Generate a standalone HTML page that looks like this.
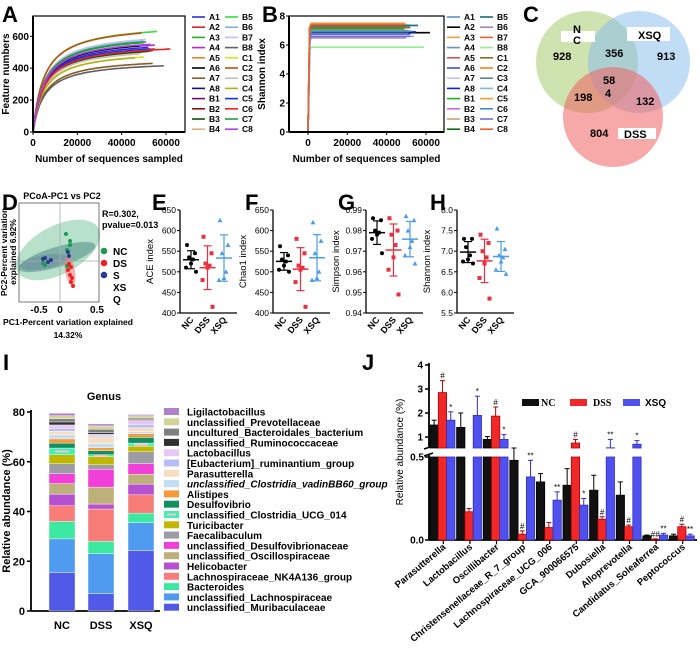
<!DOCTYPE html>
<html><head><meta charset="utf-8">
<style>
html,body{margin:0;padding:0;background:#fff;}
svg{display:block;font-family:"Liberation Sans",Arial,sans-serif;font-weight:bold;}
</style></head>
<body>
<svg id="fig" width="700" height="655" viewBox="0 0 700 655" xmlns="http://www.w3.org/2000/svg">
<g font-size="22" fill="#000">
<text x="2" y="22">A</text>
<text x="262" y="22">B</text>
<text x="523" y="22">C</text>
<text x="2" y="210">D</text>
<text x="152" y="210">E</text>
<text x="245" y="210">F</text>
<text x="338" y="210">G</text>
<text x="430" y="210">H</text>
<text x="3" y="370">I</text>
<text x="362" y="370">J</text>
</g>
<!-- Venn C -->
<g font-size="11">
<circle cx="587" cy="62" r="51" fill="#a8cc70" opacity="0.55"/>
<circle cx="639" cy="62" r="51" fill="#8ec0ec" opacity="0.55"/>
<circle cx="613" cy="117" r="50" fill="#f06060" opacity="0.55"/>
<rect x="561" y="31" width="34" height="11" fill="#fff"/>
<text x="573" y="33">N</text>
<text x="573" y="44">C</text>
<rect x="627" y="27" width="43" height="14" fill="#fff"/>
<text x="638" y="39">XSQ</text>
<rect x="618" y="128" width="38" height="11" fill="#fff"/>
<text x="624" y="138">DSS</text>
<text x="553" y="60">928</text>
<text x="605" y="57">356</text>
<text x="657" y="60">913</text>
<text x="603" y="84">58</text>
<text x="605" y="97">4</text>
<text x="574" y="101">198</text>
<text x="636" y="105">132</text>
<text x="590" y="137">804</text>
</g>
<g id="root"></g>
</svg>
<script>
const NS='http://www.w3.org/2000/svg';
const root=document.getElementById('root');
function mk(tag,a,p){const e=document.createElementNS(NS,tag);for(const k in a)e.setAttribute(k,a[k]);(p||root).appendChild(e);return e;}
function tx(s,a,p){const e=mk('text',a,p);e.textContent=s;return e;}

/* ---------- Panel A data ---------- */
const rareNames=['A1','A2','A3','A4','A5','A6','A7','A8','B1','B2','B3','B4','B5','B6','B7','B8','C1','C2','C3','C4','C5','C6','C7','C8'];
const featFinal=[530,520,560,545,500,540,430,510,505,510,505,490,630,570,580,415,470,620,490,465,520,520,565,550];
const featDepth=[52000,55000,50000,55000,49000,48000,54000,54000,50000,52000,52000,48000,56000,50000,51000,59000,50000,49000,47000,46000,53000,62000,51000,53000];
const colA=['#2030e0','#e02020','#20b020','#c020d0','#f08020','#000','#8a5a20','#101080','#701060','#901010','#105010','#e0b080','#30e030','#80b0e8','#c0c0f0','#606060','#e0e020','#c05010','#c0c0c0','#b0b020','#1030f0','#f02020','#20a040','#b040e0'];
/* ---------- Panel B data ---------- */
const shanFinal=[7.0,6.85,7.45,6.9,7.2,6.75,6.6,6.9,7.1,7.3,7.0,7.35,7.35,6.5,7.5,5.85,7.2,7.5,6.8,6.6,7.45,6.95,6.6,7.4];
const shanDepth=[50000,62000,50000,48000,52000,52000,53000,55000,49000,50000,51000,52000,56000,50000,49000,59000,52000,49000,51000,54000,50000,53000,52000,49000];
const colB=['#6090d0','#000','#f0a040','#7090c0','#e05050','#4050e0','#c0c0f0','#1020e0','#20b020','#c070e0','#d0a070','#107010','#107080','#b080b0','#f06020','#90f090','#807020','#f08020','#6080a0','#80b8e8','#f0a030','#4090d0','#7070e0','#f06030'];

function rarePanel(L,xmin,axX0,x60,yTop,yBot,ymax,yticks,fin,dep,cols,shape,ylab,legX){
  const xs=v=>axX0+v*(x60-axX0)/60000, ys=v=>yBot-v*(yBot-yTop)/ymax;
  const g=mk('g',{});
  
  
  for(let i=0;i<fin.length;i++){
    let d='';
    for(let k=0;k<=60;k++){const x=dep[i]*k/60;const y=shape(x,fin[i],dep[i]);d+=(k?'L':'M')+xs(x).toFixed(1)+' '+ys(y).toFixed(1);}
    const p=mk('path',{d:d,fill:'none',stroke:cols[i],'stroke-width':1.6},g);
    
    
  }
  mk('rect',{x:xmin,y:yTop,width:(L=='a'?185:444)-xmin,height:yBot-yTop,fill:'none',stroke:'#000','stroke-width':1.2},g);
  mk('line',{x1:xmin,y1:yTop,x2:xmin,y2:yBot,stroke:'#000','stroke-width':2},g);
  mk('line',{x1:xmin,y1:yBot,x2:(L=='a'?185:444),y2:yBot,stroke:'#000','stroke-width':2},g);
  yticks.forEach(t=>{mk('line',{x1:xmin-3,y1:ys(t),x2:xmin,y2:ys(t),stroke:'#000'},g);tx(String(t),{x:xmin-4,y:ys(t)+3.5,'font-size':10,'text-anchor':'end'},g);});
  [0,20000,40000,60000].forEach(t=>{mk('line',{x1:xs(t),y1:yBot,x2:xs(t),y2:yBot+3,stroke:'#000'},g);tx(String(t),{x:xs(t),y:yBot+14,'font-size':10,'text-anchor':'middle'},g);});
  tx('Number of sequences sampled',{x:(xmin+(L=='a'?185:444))/2,y:yBot+30,'font-size':10,'text-anchor':'middle'},g);
  tx(ylab,{transform:`translate(${xmin-24},${(yTop+yBot)/2}) rotate(-90)`,'font-size':10,'text-anchor':'middle'},g);
  for(let i=0;i<24;i++){
    const c=Math.floor(i/12),r=i%12,y=17+r*10.2,x=legX+c*33;
    const ln=mk('line',{x1:x,y1:y,x2:x+13,y2:y,stroke:cols[i],'stroke-width':1.6},g);
    
    
    const t=tx(rareNames[i],{x:x+17,y:y+3,'font-size':8.5},g);
    
    
  }
}
rarePanel('a',33,33,166,16,132,727,[0,200,400,600],featFinal,featDepth,colA,(x,F,D)=>F*(x/(x+5000))*(D+5000)/D,'Feature numbers',192);
rarePanel('b',289,308,426,16,132,8,[0,2,4,6,8],shanFinal,shanDepth,colB,(x,S,D)=>S*(1-Math.exp(-x/250)),'Shannon index',447);

/* ---------- Panel D PCoA ---------- */
const pcNCx=[0.1,0.167,0.167,0.117,-0.283,-0.25,0.117], pcNCy=[0.27,0.2,0.16,0.11,-0.02,-0.04,-0.05];
const pcDSx=[0.15,0.183,0.133,0.167,0.2,0.183,0.217], pcDSy=[-0.03,-0.06,-0.09,-0.14,-0.17,-0.21,-0.25];
const pcXSx=[0.133,0.15,-0.283,-0.2,-0.15,-0.25], pcXSy=[0.09,0.05,0.02,-0.01,0.01,0.03];
(function(){
  const xD=v=>60+v*60, yD=v=>261-v*100;
  const g=mk('g',{});
  
  
  tx('PCoA-PC1 vs PC2',{x:62,y:199,'font-size':9,'text-anchor':'middle'},g);
  const e1=mk('ellipse',{cx:58,cy:250,rx:46,ry:24,transform:'rotate(-28 58 250)',fill:'#7cc8a0',opacity:0.55},g);
  
  const e3=mk('ellipse',{cx:44,cy:262,rx:24,ry:7,transform:'rotate(-10 44 262)',fill:'#8a8ac0',opacity:0.45},g);
  
  const e2=mk('ellipse',{cx:57,cy:257,rx:40,ry:10,transform:'rotate(-17 57 257)',fill:'#3a7a78',opacity:0.45},g);
  
  const e4=mk('ellipse',{cx:70,cy:271,rx:5,ry:15,transform:'rotate(-10 70 271)',fill:'#f08080',opacity:0.6},g);
  
  mk('line',{x1:60,y1:203,x2:60,y2:302,stroke:'#aaa','stroke-width':0.8},g);
  mk('line',{x1:19,y1:261,x2:99,y2:261,stroke:'#aaa','stroke-width':0.8},g);
  mk('rect',{x:19,y:203,width:80,height:99,fill:'none',stroke:'#555','stroke-width':0.8},g);
  const sets=[[pcNCx,pcNCy,'#1a9a50','nc'],[pcDSx,pcDSy,'#f02020','dss'],[pcXSx,pcXSy,'#2a3a90','xsq']];
  sets.forEach(s=>s[0].forEach((v,i)=>{const c=mk('circle',{cx:xD(v),cy:yD(s[1][i]),r:2,fill:s[2]},g);}));
  [['-0.5',39],['0',60],['0.5',97]].forEach(t=>tx(t[0],{x:t[1],y:313,'font-size':10,'text-anchor':'middle'},g));
  tx('PC1-Percent variation explained',{x:68,y:325,'font-size':8.5,'text-anchor':'middle'},g);
  tx('14.32%',{x:68,y:338,'font-size':8.5,'text-anchor':'middle'},g);
  tx('PC2-Percent variation',{transform:'translate(7,252) rotate(-90)','font-size':8.5,'text-anchor':'middle'},g);
  tx('explained 6.92%',{transform:'translate(16,252) rotate(-90)','font-size':8.5,'text-anchor':'middle'},g);
  tx('R=0.302,',{x:102,y:217,'font-size':9},g);
  tx('pvalue=0.013',{x:102,y:228,'font-size':9},g);
  [['#1a9a50','NC',251],['#f02020','DS',263],['#2a3a90','S',275]].forEach(l=>{const c=mk('circle',{cx:104,cy:l[2],r:3.3,fill:l[0]},g);});
  [['NC',251],['DS',263],['S',275],['XS',287],['Q',299]].forEach(l=>{const t=tx(l[0],{x:113,y:l[1]+4,'font-size':10},g);});
})();

/* ---------- Panels E-H alpha diversity ---------- */
const aceNC=[565,545,535,530,520,510,500], aceDSS=[585,545,520,515,510,480,415], aceXSQ=[625,565,545,500,485,480];
const chaoNC=[562,540,530,525,515,505,500], chaoDSS=[580,545,515,510,505,475,415], chaoXSQ=[620,575,545,500,485,480];
const simpNC=[0.986,0.985,0.980,0.979,0.978,0.976,0.969], simpDSS=[0.986,0.980,0.978,0.973,0.967,0.961,0.949], simpXSQ=[0.987,0.985,0.980,0.975,0.972,0.968,0.964];
const shanNC=[7.3,7.3,7.1,6.9,6.8,6.75,6.7], shanDSS=[7.4,7.2,7.0,6.85,6.7,6.35,5.85], shanXSQ=[7.55,7.05,6.9,6.85,6.75,6.55,6.45];
const aceTicks=['400','450','500','550','600','650'], simpTicks=['0.94','0.95','0.96','0.97','0.98','0.99'], shanTicks=['5.5','6.0','6.5','7.0','7.5','8.0'];
const groups=['NC','DSS','XSQ'];
function alphaPanel(name,ax,ticks,data,ylab){
  const mn=+ticks[0],mx=+ticks[ticks.length-1],yT=210,yB=313;
  const ys=v=>yB-(v-mn)/(mx-mn)*(yB-yT);
  const g=mk('g',{});
  
  
  mk('line',{x1:ax,y1:yT,x2:ax,y2:yB,stroke:'#000','stroke-width':1.3},g);
  mk('line',{x1:ax,y1:yB,x2:ax+57,y2:yB,stroke:'#000','stroke-width':1.3},g);
  ticks.forEach(t=>{mk('line',{x1:ax-3,y1:ys(+t),x2:ax,y2:ys(+t),stroke:'#000'},g);tx(t,{x:ax-4,y:ys(+t)+3,'font-size':8.5,'text-anchor':'end','font-weight':'normal'},g);});
  tx(ylab,{transform:`translate(${ax-27},${(yT+yB)/2}) rotate(-90)`,'font-size':9.5,'text-anchor':'middle','font-weight':'normal'},g);
  const cols=['#000','#e83040','#4a9be8'], jit=[-4,4,-2,2,0,-5,5];
  data.forEach((arr,gi)=>{
    const cx=ax+11+gi*16.5;
    const m=arr.reduce((a,b)=>a+b,0)/arr.length;
    const sd=Math.sqrt(arr.reduce((a,b)=>a+(b-m)*(b-m),0)/(arr.length-1));
    arr.forEach((v,i)=>{
      const x=cx+jit[i],y=ys(v);let p;
      if(gi==0)p=mk('circle',{cx:x,cy:y,r:2,fill:cols[0]},g);
      else if(gi==1)p=mk('rect',{x:x-2,y:y-2,width:4,height:4,fill:cols[1]},g);
      else p=mk('path',{d:`M${x} ${y-2.5}L${x+2.4} ${y+2}L${x-2.4} ${y+2}Z`,fill:cols[2]},g);
      
      
    });
    const ml=mk('line',{x1:cx-8,y1:ys(m),x2:cx+8,y2:ys(m),stroke:cols[gi],'stroke-width':1.5},g);
    
    
    mk('line',{x1:cx,y1:ys(m-sd),x2:cx,y2:ys(m+sd),stroke:cols[gi],'stroke-width':1.2},g);
    mk('line',{x1:cx-4,y1:ys(m-sd),x2:cx+4,y2:ys(m-sd),stroke:cols[gi],'stroke-width':1.2},g);
    mk('line',{x1:cx-4,y1:ys(m+sd),x2:cx+4,y2:ys(m+sd),stroke:cols[gi],'stroke-width':1.2},g);
    tx(groups[gi],{transform:`translate(${cx+3},${yB+7}) rotate(-50)`,'font-size':9,'text-anchor':'end'},g);
  });
}
alphaPanel('ace',180,aceTicks,[aceNC,aceDSS,aceXSQ],'ACE index');
alphaPanel('chao1',273,aceTicks,[chaoNC,chaoDSS,chaoXSQ],'Chao1 index');
alphaPanel('simpson',366,simpTicks,[simpNC,simpDSS,simpXSQ],'Simpson index');
alphaPanel('shannon',457,shanTicks,[shanNC,shanDSS,shanXSQ],'Shannon index');

/* ---------- Panel I genus stacked bars ---------- */
const genera=['unclassified_Muribaculaceae','unclassified_Lachnospiraceae','Bacteroides','Lachnospiraceae_NK4A136_group','Helicobacter','unclassified_Oscillospiraceae','unclassified_Desulfovibrionaceae','Faecalibaculum','Turicibacter','unclassified_Clostridia_UCG_014','Desulfovibrio','Alistipes','unclassified_Clostridia_vadinBB60_group','Parasutterella','[Eubacterium]_ruminantium_group','Lactobacillus','unclassified_Ruminococcaceae','uncultured_Bacteroidales_bacterium','unclassified_Prevotellaceae','Ligilactobacillus'];
const genusNC=[15.5,13.5,7,6.3,4.7,4.2,4,4,3.6,2.7,2,1.7,1.6,1.5,1.2,1.3,1.2,1.3,1.2,1];
const genusDSS=[7,16,5,13,2,6.8,7.2,1.8,3.2,0.8,1.6,1.3,1.6,2.7,0.6,0.4,0.7,1.4,1.3,0.8];
const genusXSQ=[24.3,11.2,3.8,7.4,4.3,4,4.2,4.8,2.3,1.2,2.3,1.5,0.8,1.6,1.2,1.7,0.4,0.6,0.9,0.5];
const genusTicks=[0,20,40,60,80];
const genusCols=['#5159e8','#4f9bf0','#3de8a0','#f87c78','#b550d0','#bdb07a','#f040d8','#9c9ca4','#c0b800','#40f0b0','#109060','#f89a38','#c0ddf5','#f5dfc0','#b8bcf8','#e8c8f5','#303030','#808080','#d4d498','#b080c8'];
(function(){
  const ys=v=>611-v*(611-412)/80;
  const g=mk('g',{});
  
  
  tx('Genus',{x:104,y:400,'font-size':11,'text-anchor':'middle'},g);
  mk('line',{x1:31,y1:410,x2:31,y2:611,stroke:'#000','stroke-width':1.8},g);
  mk('line',{x1:31,y1:611,x2:160,y2:611,stroke:'#000','stroke-width':1.8},g);
  genusTicks.forEach(t=>{mk('line',{x1:27,y1:ys(t),x2:31,y2:ys(t),stroke:'#000','stroke-width':1.5},g);tx(String(t),{x:25,y:ys(t)+4,'font-size':11,'text-anchor':'end'},g);});
  tx('Relative abundance (%)',{transform:'translate(10,511) rotate(-90)','font-size':11,'text-anchor':'middle'},g);
  const bx=[49,88,128];
  [genusNC,genusDSS,genusXSQ].forEach((arr,gi)=>{
    let acc=0;
    arr.forEach((v,i)=>{
      const r=mk('rect',{x:bx[gi],y:ys(acc+v),width:26,height:ys(acc)-ys(acc+v),fill:genusCols[i],stroke:'#fff','stroke-width':0.4},g);
      
      
      if(i==9){mk('rect',{x:bx[gi]+6,y:ys(acc+v/2)-1,width:14,height:2,fill:'#f8c0e0'},g);}
      acc+=v;
    });
    tx(groups[gi],{x:bx[gi]+13,y:629,'font-size':11,'text-anchor':'middle'},g);
  });
  for(let k=0;k<20;k++){
    const i=19-k,y=412+k*10.3;
    const s=mk('rect',{x:164,y:y-4,width:15,height:7,fill:genusCols[i]},g);
    
    
    if(i==9)mk('rect',{x:167,y:y-1.5,width:9,height:2,fill:'#f8c0e0'},g);
    const t=tx(genera[i],{x:187,y:y+3.5,'font-size':10,'font-style':i==12?'italic':'normal'},g);
    
    
  }
})();

/* ---------- Panel J differential genera ---------- */
const jCats=['Parasutterella','Lactobacillus','Oscillibacter','Christensenellaceae_R_7_group','Lachnospiraceae_UCG_006','GCA_900066575','Dubosiella','Alloprevotella','Candidatus_Soleaferrea','Peptococcus'];
const jNC=[1.5,1.4,0.9,0.48,0.35,0.33,0.3,0.27,0.025,0.025];
const jNCerr=[0.2,0.6,0.12,0.05,0.05,0.1,0.09,0.08,0.005,0.01];
const jDSS=[2.85,0.17,1.87,0.035,0.075,0.75,0.125,0.08,0.005,0.08];
const jDSSerr=[0.5,0.02,0.38,0.02,0.03,0.15,0.015,0.01,0.002,0.015];
const jXSQ=[1.7,1.9,0.9,0.38,0.24,0.21,0.55,0.7,0.03,0.025];
const jXSQerr=[0.35,0.8,0.2,0.1,0.05,0.04,0.35,0.15,0.01,0.01];
const jSigDSS=['#','','#','#','','#','#','#','##','#'];
const jSigXSQ=['*','*','*','**','**','*','**','*','**','**'];
const jTicksLow=['0.0','0.5'], jTicksHigh=['1','2','3','4'];
(function(){
  const yJ=v=>v<=0.5?540-v*166:Math.min(448,437-(v-1)*24);
  const g=mk('g',{});
  
  
  const ax=429;
  mk('line',{x1:ax,y1:455,x2:ax,y2:540,stroke:'#000','stroke-width':1.8},g);
  mk('line',{x1:ax,y1:363,x2:ax,y2:448,stroke:'#000','stroke-width':1.8},g);
  mk('line',{x1:ax-5,y1:449,x2:ax+4,y2:446,stroke:'#000','stroke-width':1.5},g);
  mk('line',{x1:ax-5,y1:456,x2:ax+4,y2:453,stroke:'#000','stroke-width':1.5},g);
  mk('line',{x1:ax,y1:540,x2:697,y2:540,stroke:'#000','stroke-width':1.8},g);
  jTicksLow.forEach(t=>{mk('line',{x1:ax-4,y1:yJ(+t),x2:ax,y2:yJ(+t),stroke:'#000','stroke-width':1.5},g);tx(t,{x:ax-5,y:yJ(+t)+3.5,'font-size':10,'text-anchor':'end'},g);});
  jTicksHigh.forEach(t=>{mk('line',{x1:ax-4,y1:yJ(+t),x2:ax,y2:yJ(+t),stroke:'#000','stroke-width':1.5},g);tx(t,{x:ax-6,y:yJ(+t)+3.5,'font-size':10,'text-anchor':'end'},g);});
  tx('Relative abundance (%)',{transform:'translate(403,452) rotate(-90)','font-size':10,'text-anchor':'middle','font-weight':'normal'},g);
  const cols=['#111','#f02828','#5050ee'], strokes=['#000','#b00000','#3030c0'];
  const vals=[jNC,jDSS,jXSQ], errs=[jNCerr,jDSSerr,jXSQerr];
  const gw=26.6,bw=8.3;
  jCats.forEach((c,i)=>{
    const gx=ax+1+i*gw;
    for(let s=0;s<3;s++){
      const v=vals[s][i],e=errs[s][i],x=gx+s*bw,cx=x+bw/2;
      const lowTop=yJ(Math.min(v,0.5));
      const r=mk('rect',{x:x,y:lowTop,width:bw,height:540-lowTop,fill:cols[s],stroke:strokes[s],'stroke-width':0.8},g);
      
      
      if(v>0.54){
        const r2=mk('rect',{x:x,y:yJ(v),width:bw,height:448-yJ(v),fill:cols[s],stroke:strokes[s],'stroke-width':0.8},g);
        
        
      }
      const ey=yJ(v+e);
      mk('line',{x1:cx,y1:yJ(v),x2:cx,y2:ey,stroke:strokes[s],'stroke-width':1},g);
      mk('line',{x1:cx-2.5,y1:ey,x2:cx+2.5,y2:ey,stroke:strokes[s],'stroke-width':1},g);
      const sig=s==1?jSigDSS[i]:s==2?jSigXSQ[i]:'';
      if(sig){const t=tx(sig,{x:cx,y:ey-2,'font-size':8,'text-anchor':'middle','font-weight':'normal'},g);}
    }
    const tcx=gx+gw/2;
    mk('line',{x1:tcx,y1:540,x2:tcx,y2:544,stroke:'#000','stroke-width':1.2},g);
    const l=tx(c,{transform:`translate(${tcx+3},${548}) rotate(-40)`,'font-size':9.5,'text-anchor':'end'},g);
    
    
  });
  [['NC',522,541,'#111'],['DSS',570,593,'#f02828'],['XSQ',623,645,'#5050ee']].forEach((L,k)=>{
    const s=mk('rect',{x:L[1],y:399,width:17,height:7,fill:L[3]},g);
    
    
    const t=tx(L[0],{x:L[2],y:406,'font-size':10,'font-family':k<2?'Liberation Serif':'Liberation Sans'},g);
    
    
  });
})();
</script>
</body></html>
